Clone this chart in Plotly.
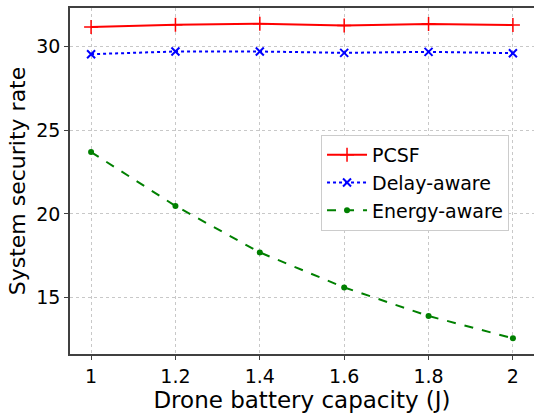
import plotly.graph_objects as go

capacity = [1.0, 1.2, 1.4, 1.6, 1.8, 2.0]
pcsf = [31.18, 31.31, 31.37, 31.27, 31.35, 31.29]
delay_aware = [29.55, 29.71, 29.71, 29.63, 29.69, 29.61]
energy_aware = [23.70, 20.48, 17.70, 15.61, 13.90, 12.57]
x_ticks = [1, 1.2, 1.4, 1.6, 1.8, 2]
x_tick_labels = ["1", "1.2", "1.4", "1.6", "1.8", "2"]
y_ticks = [15, 20, 25, 30]

FONT = "DejaVu Sans"

fig = go.Figure()
fig.add_trace(go.Scatter(
    x=capacity, y=pcsf, name="PCSF", mode="lines+markers",
    line=dict(color="#ff0000", width=2),
    marker=dict(symbol="cross-thin", size=10, line=dict(color="#ff0000", width=1.5)),
))
fig.add_trace(go.Scatter(
    x=capacity, y=delay_aware, name="Delay-aware", mode="lines+markers",
    line=dict(color="#0000ff", width=2, dash="dot"),
    marker=dict(symbol="x-thin", size=8, line=dict(color="#0000ff", width=2)),
))
fig.add_trace(go.Scatter(
    x=capacity, y=energy_aware, name="Energy-aware", mode="lines+markers",
    line=dict(color="#008000", width=2, dash="dash"),
    marker=dict(symbol="circle", size=6, color="#008000"),
))

axis_common = dict(
    showline=True, linecolor="#404040", linewidth=1.5,
    showgrid=True, gridcolor="#c8c8c8", griddash="dot", gridwidth=1,
    ticks="outside", ticklen=4, tickcolor="#404040", tickwidth=1,
    zeroline=False,
    tickfont=dict(family=FONT, size=19, color="black"),
)

fig.update_xaxes(
    range=[0.95, 2.05], tickvals=x_ticks, ticktext=x_tick_labels, mirror=True,
    title=dict(text="Drone battery capacity (J)", font=dict(family=FONT, size=23, color="black"), standoff=0),
    **axis_common,
)
fig.update_yaxes(
    range=[11.63, 32.31], tickvals=y_ticks, mirror=False,
    title=dict(text="System security rate", font=dict(family=FONT, size=22, color="black"), standoff=5),
    **axis_common,
)

fig.update_layout(
    width=534, height=413,
    margin=dict(l=70, r=0, t=8, b=59),
    paper_bgcolor="white", plot_bgcolor="white",
    font=dict(family=FONT, color="black"),
    showlegend=True,
    legend=dict(
        x=0.541, y=0.633, xanchor="left", yanchor="top",
        bgcolor="white", bordercolor="#cccccc", borderwidth=1,
        font=dict(family=FONT, size=19, color="black"),
        tracegroupgap=0, itemwidth=40,
    ),
)

fig.write_html("out.html")
